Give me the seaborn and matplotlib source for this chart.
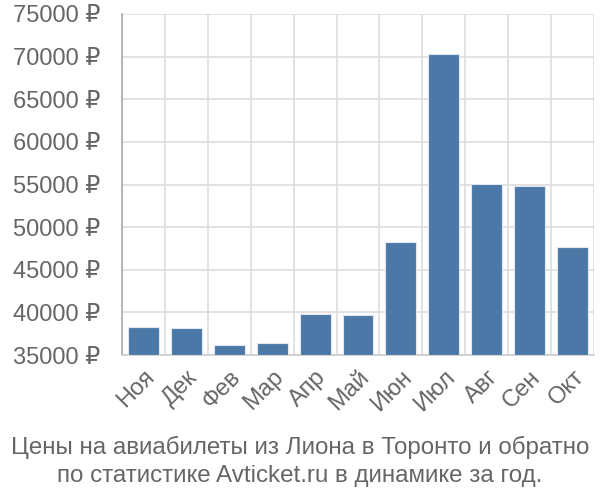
import matplotlib
matplotlib.use("Agg")
import matplotlib.pyplot as plt
import seaborn as sns
import pandas as pd
import numpy as np
from matplotlib.ticker import FixedLocator

months = ["Ноя", "Дек", "Фев", "Мар", "Апр", "Май", "Июн", "Июл", "Авг", "Сен", "Окт"]
prices = [38250, 38170, 36170, 36370, 39770, 39690, 48220, 70310, 55060, 54820, 47700]
yticks = [35000, 40000, 45000, 50000, 55000, 60000, 65000, 70000, 75000]
title = "Цены на авиабилеты из Лиона в Торонто и обратно\nпо статистике Avticket.ru в динамике за год."

sns.set_theme(style="white")
plt.rcParams['font.family'] = ['Liberation Sans', 'DejaVu Sans']

df = pd.DataFrame({"month": months, "price": prices})

fig = plt.figure(figsize=(6, 5), dpi=100)
ax = fig.add_axes([122/600, 1-355/500, (594-122)/600, (355-14)/500])

sns.barplot(data=df, x="month", y="price", ax=ax, color="#4c78a8", saturation=1,
            width=0.72, edgecolor="#dfe8f1", linewidth=0.8, zorder=3)

# bars start at 35000 baseline: adjust bottoms
for p in ax.patches:
    h = p.get_height()
    p.set_y(35000)
    p.set_height(h - 35000)

ax.set_ylim(35000, 75000)
ax.set_xlim(-0.5, len(months) - 0.5)
ax.set_yticks(yticks)
ax.set_yticklabels([f"{v} ₽" for v in yticks])
ax.set_xlabel("")
ax.set_ylabel("")

ax.xaxis.set_minor_locator(FixedLocator(np.arange(-0.5, len(months), 1.0)))
ax.grid(False)
ax.grid(which="minor", axis="x", color="#dddddd", linewidth=1.2, zorder=0)
ax.grid(which="major", axis="y", color="#dddddd", linewidth=1.2, zorder=0)
ax.set_axisbelow(True)

ax.tick_params(axis="x", which="major", length=0, labelsize=17, labelcolor="#666666", pad=8)
ax.tick_params(axis="x", which="minor", length=13.7, color="#dddddd", width=1.2)
ax.tick_params(axis="y", which="major", length=14.4, color="#dddddd", width=1.2,
               labelsize=17, labelcolor="#666666", pad=1)
plt.setp(ax.get_xticklabels(), rotation=45, ha="right", rotation_mode="anchor")

for s in ["top", "right"]:
    ax.spines[s].set_visible(False)
ax.spines["left"].set_color("#aaaaaa")
ax.spines["bottom"].set_color("#cccccc")
ax.spines["left"].set_linewidth(1.2)
ax.spines["bottom"].set_linewidth(1.2)

fig.text(0.5, 1 - 461/500, title, ha="center", va="center",
         fontsize=17.4, color="#666666", linespacing=1.35)

fig.savefig("out.png", dpi=100)
